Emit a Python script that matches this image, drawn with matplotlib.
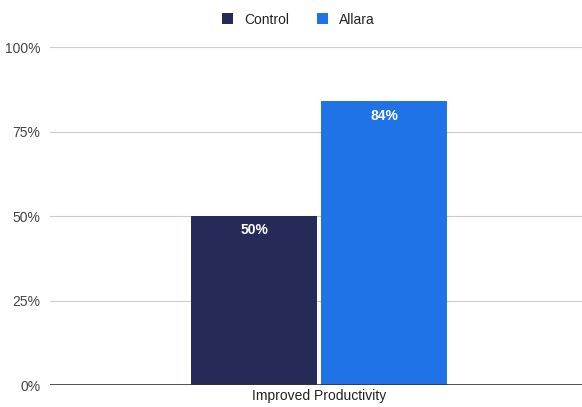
import matplotlib.pyplot as plt
import numpy as np

plt.rcParams['font.family'] = ['Liberation Sans', 'DejaVu Sans']

category = 'Improved Productivity'
series = ['Control', 'Allara']
values = [50, 84]
colors = ['#262a58', '#1f73e6']
yticks = [0, 25, 50, 75, 100]

fig = plt.figure(figsize=(5.82, 4.07), dpi=100)
ax = fig.add_axes([0.086, 0.054, 0.914, 0.8305])

xs = [-0.1165, 0.128]
width = 0.237
for x, v, c, name in zip(xs, values, colors, series):
    ax.bar(x, v, width=width, color=c, label=name, zorder=3)
    ax.text(x, v - 2.2, f'{v}%', ha='center', va='top', color='white',
            fontsize=10, fontweight='bold', zorder=4)

ax.set_xlim(-0.5, 0.5)
ax.set_ylim(0, 100)
ax.set_yticks(yticks)
ax.set_yticklabels([f'{t}%' for t in yticks], fontsize=10, color='#444444')
ax.set_xticks([0.006])
ax.set_xticklabels([category], fontsize=10, color='#222222')
ax.tick_params(axis='both', length=0, pad=3)
ax.tick_params(axis='y', pad=7)

ax.grid(axis='y', color='#cccccc', linewidth=0.8, zorder=0)
ax.axhline(0, color='#333333', linewidth=1.2, zorder=5)
for s in ax.spines.values():
    s.set_visible(False)

leg = fig.legend(loc='upper center', bbox_to_anchor=(0.513, 1.0), ncol=2,
                 frameon=False, fontsize=10, handlelength=0.8, handleheight=0.8,
                 columnspacing=2.0, handletextpad=0.8)
for t in leg.get_texts():
    t.set_color('#222222')

fig.savefig('out.png', dpi=100)
